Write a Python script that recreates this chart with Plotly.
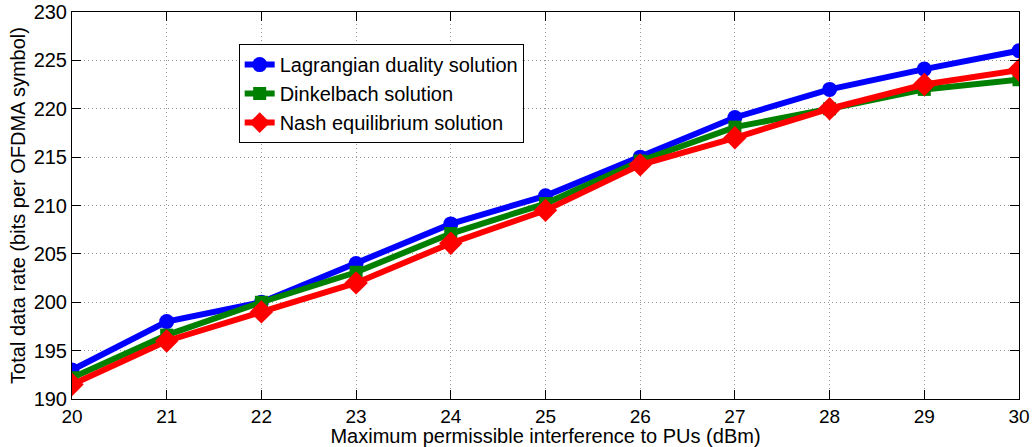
import plotly.graph_objects as go

x_vals = [20, 21, 22, 23, 24, 25, 26, 27, 28, 29, 30]
lagrangian = [193, 198, 200, 204, 208.1, 211, 215, 219.1, 222, 224.1, 226]
dinkelbach = [192.2, 196.6, 200, 203.1, 207.1, 210.2, 214.6, 218.1, 220, 222, 223]
nash = [191.5, 196, 199, 202, 206.1, 209.5, 214.2, 217, 220, 222.5, 224]

series_names = ["Lagrangian duality solution", "Dinkelbach solution", "Nash equilibrium solution"]
x_ticks = list(range(20, 31))
y_ticks = list(range(190, 231, 5))

FONT = "Liberation Sans, Arial, Helvetica"

fig = go.Figure()
fig.add_trace(go.Scatter(x=x_vals, y=lagrangian, name=series_names[0], mode="lines+markers",
                         line=dict(color="#0000FF", width=6),
                         marker=dict(symbol="circle", size=15, color="#0000FF")))
fig.add_trace(go.Scatter(x=x_vals, y=dinkelbach, name=series_names[1], mode="lines+markers",
                         line=dict(color="#008000", width=6),
                         marker=dict(symbol="square", size=13, color="#008000")))
fig.add_trace(go.Scatter(x=x_vals, y=nash, name=series_names[2], mode="lines+markers",
                         line=dict(color="#FF0000", width=6),
                         marker=dict(symbol="diamond", size=18, color="#FF0000")))

axis_common = dict(showline=True, linecolor="black", linewidth=1, mirror="ticks",
                   ticks="inside", ticklen=9, tickcolor="black", automargin=False,
                   showgrid=True, gridcolor="#999999", griddash="1px,3px", gridwidth=1,
                   zeroline=False,
                   title_font=dict(family=FONT, size=20, color="black"))

fig.update_xaxes(range=[20, 30], tickvals=x_ticks, title_text="Maximum permissible interference to PUs (dBm)",
                 title_standoff=4, tickfont=dict(family=FONT, size=19, color="black"), **axis_common)
fig.update_yaxes(range=[190, 230], tickvals=y_ticks, title_text="Total data rate (bits per OFDMA symbol)",
                 title_standoff=2, tickfont=dict(family=FONT, size=20, color="black"), **axis_common)

fig.update_layout(
    width=1032, height=447,
    margin=dict(l=72, r=13, t=12, b=48),
    plot_bgcolor="white", paper_bgcolor="white",
    font=dict(family=FONT, size=20, color="black"),
    legend=dict(x=0.176, y=0.917, xanchor="left", yanchor="top",
                bgcolor="white", bordercolor="black", borderwidth=1,
                font=dict(family=FONT, size=20, color="black"),
                itemwidth=30, tracegroupgap=0),
    showlegend=True,
)

fig.write_html("out.html")
